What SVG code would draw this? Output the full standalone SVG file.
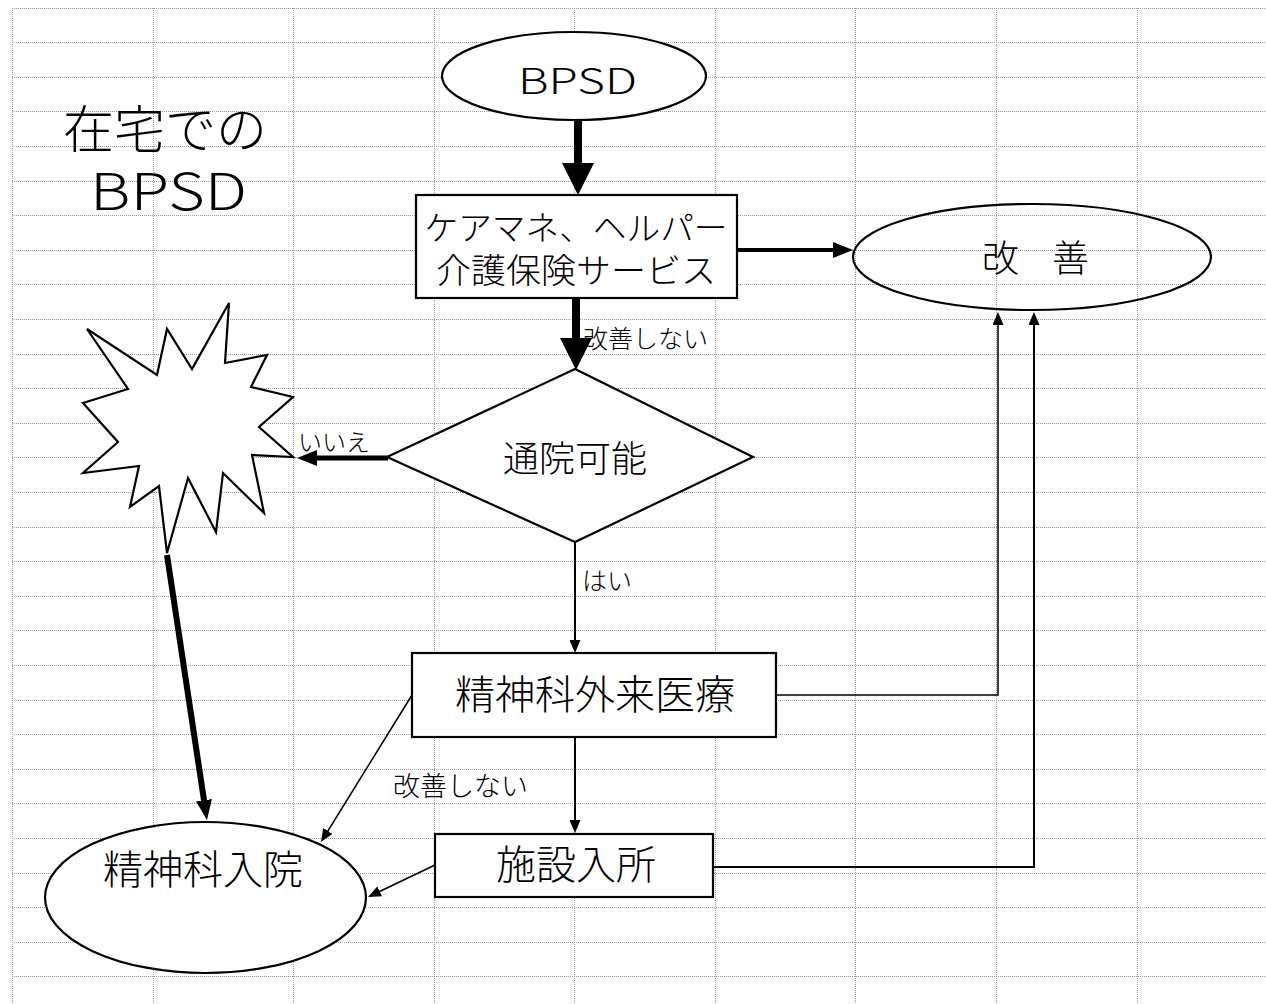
<svg xmlns="http://www.w3.org/2000/svg" width="1266" height="1004" viewBox="0 0 1266 1004">
<style>
  .grid { fill: none; stroke: #9a9a9a; stroke-width: 1; stroke-dasharray: 1 1; }
  .node { fill: #fff; stroke: #000; stroke-width: 2.2; }
  .open { fill: none; stroke: #000; stroke-width: 2.2; }
  .t { font-family: 'Noto Sans CJK JP', 'Noto Sans', sans-serif; font-weight: 300; fill: #000; }
  .c { text-anchor: middle; }
  .con { fill: none; stroke: #000; }
</style>
<defs>
  <marker id="ahBig" markerUnits="userSpaceOnUse" markerWidth="32" markerHeight="32" viewBox="0 0 32 32" refX="12" refY="16" orient="auto">
    <path d="M0,0 L32,16 L0,32 z" fill="#000"/>
  </marker>
  <marker id="ahMid" markerUnits="userSpaceOnUse" markerWidth="20" markerHeight="16" viewBox="0 0 20 16" refX="6" refY="8" orient="auto">
    <path d="M0,0 L20,8 L0,16 z" fill="#000"/>
  </marker>
  <marker id="ahSmall" markerUnits="userSpaceOnUse" markerWidth="13" markerHeight="11" viewBox="0 0 13 11" refX="3" refY="5.5" orient="auto">
    <path d="M0,0 L13,5.5 L0,11 z" fill="#000"/>
  </marker>
</defs>
<rect width="1266" height="1004" fill="#fff"/>
<g id="grid">
  <path class="grid" d="M12,8.5H1266 M12,42.5H1266 M12,77.5H1266 M12,111.5H1266 M12,146.5H1266 M12,181.5H1266 M12,215.5H1266 M12,250.5H1266 M12,284.5H1266 M12,319.5H1266 M12,354.5H1266 M12,388.5H1266 M12,423.5H1266 M12,457.5H1266 M12,492.5H1266 M12,527.5H1266 M12,561.5H1266 M12,596.5H1266 M12,630.5H1266 M12,665.5H1266 M12,700.5H1266 M12,734.5H1266 M12,769.5H1266 M12,803.5H1266 M12,838.5H1266 M12,873.5H1266 M12,907.5H1266 M12,942.5H1266 M12,976.5H1266"/>
  <path class="grid" d="M12.5,8V1004 M153.5,8V1004 M293.5,8V1004 M434.5,8V1004 M574.5,8V1004 M715.5,8V1004 M855.5,8V1004 M996.5,8V1004 M1137.5,8V1004"/>
</g>
<g id="title">
  <text class="t" x="63" y="148" font-size="51">在宅での</text>
  <text class="t" x="90" y="210" font-size="51" textLength="157" lengthAdjust="spacingAndGlyphs">BPSD</text>
</g>
<g id="connectors">
  <path class="con" stroke-width="8" d="M578,120 V175" marker-end="url(#ahBig)"/>
  <path class="con" stroke-width="4" d="M737,250 H839" marker-end="url(#ahMid)"/>
  <path class="con" stroke-width="8" d="M576,298 V350" marker-end="url(#ahBig)"/>
  <path class="con" stroke-width="5" d="M388,458 H311" marker-end="url(#ahMid)"/>
  <path class="con" stroke-width="6" d="M167,555 L204.9,806.2" marker-end="url(#ahMid)"/>
  <path class="con" stroke-width="2" d="M575,542 V643" marker-end="url(#ahSmall)"/>
  <path class="con" stroke-width="2" d="M575,737 V823" marker-end="url(#ahSmall)"/>
  <path class="con" stroke-width="1.5" d="M412,695 L326.3,833.5" marker-end="url(#ahSmall)"/>
  <path class="con" stroke-width="1.5" d="M435,865 L377,892.7" marker-end="url(#ahSmall)"/>
  <path class="con" stroke-width="1.5" d="M776,695 H998 V322" marker-end="url(#ahSmall)"/>
  <path class="con" stroke-width="2" d="M713,867 H1034 V322" marker-end="url(#ahSmall)"/>
</g>
<g id="node-bpsd">
  <ellipse class="node" cx="574" cy="76" rx="132" ry="44"/>
  <text class="t" x="518" y="94" font-size="35" textLength="119" lengthAdjust="spacingAndGlyphs">BPSD</text>
</g>
<g id="node-care">
  <rect class="node" x="416" y="195" width="321" height="103" stroke-width="2.5"/>
  <text class="t c" x="576" y="240" font-size="33" textLength="303" lengthAdjust="spacingAndGlyphs">ケアマネ、ヘルパー</text>
  <text class="t c" x="576" y="283" font-size="34" textLength="280" lengthAdjust="spacingAndGlyphs">介護保険サービス</text>
</g>
<g id="node-kaizen">
  <ellipse class="open" cx="1032" cy="257" rx="179" ry="53"/>
  <text class="t" x="982" y="272" font-size="37">改</text>
  <text class="t" x="1052" y="272" font-size="37">善</text>
</g>
<g id="node-decision">
  <polygon class="node" points="575,369 753,457 575,542 387,457"/>
  <text class="t c" x="575" y="472" font-size="36">通院可能</text>
</g>
<g id="node-star">
  <polygon class="node" points="87,329 157,375 167,329 192,369 229,303 225,363 267,355 251,387 293,397 259,427 293,457 252,455 264,513 223,473 216,532 188,478 167,553 159,486 130,507 139,466 83,473 118,442 83,403 128,389"/>
</g>
<g id="node-outpatient">
  <rect class="node" x="412" y="653" width="364" height="84"/>
  <text class="t c" x="595" y="709" font-size="40">精神科外来医療</text>
</g>
<g id="node-facility">
  <rect class="node" x="435" y="834" width="278" height="63"/>
  <text class="t c" x="576" y="879" font-size="40">施設入所</text>
</g>
<g id="node-admission">
  <ellipse class="node" cx="205.5" cy="897.5" rx="160.5" ry="75.5"/>
  <text class="t c" x="203" y="884" font-size="40">精神科入院</text>
</g>
<g id="labels">
  <text class="t" x="583" y="348" font-size="25">改善しない</text>
  <text class="t" x="298" y="451" font-size="24">いいえ</text>
  <text class="t" x="582" y="590" font-size="25">はい</text>
  <text class="t" x="393" y="796" font-size="27">改善しない</text>
</g>
</svg>
